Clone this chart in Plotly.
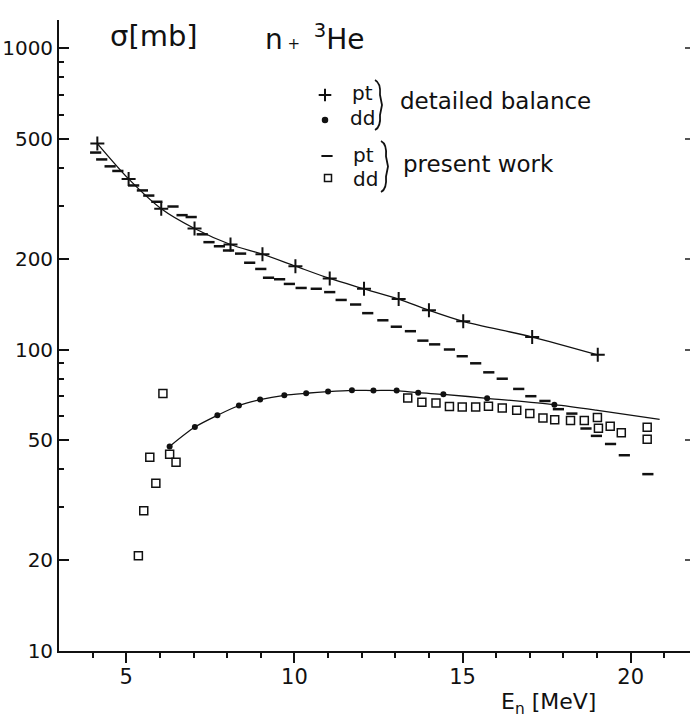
import plotly.graph_objects as go

# ---- n + 3He: detailed-balance values (p+t and d+d channels) ----
db_pt_E = [4.14, 5.07, 6.04, 7.03, 8.10, 9.05, 10.03, 11.05, 12.07, 13.10, 14.0, 15.02, 17.07, 19.02]
db_pt_sigma = [482, 368, 293, 252, 223, 207, 189, 172, 159, 147, 135, 124, 110, 96]

db_dd_E = [6.29, 7.04, 7.71, 8.35, 8.98, 9.70, 10.35, 11.0, 11.71, 12.35, 13.04, 13.68, 14.43, 15.73, 17.73]
db_dd_sigma = [47.7, 55.3, 60.5, 65.2, 68.2, 70.5, 71.6, 72.5, 73.2, 73.1, 73.1, 71.9, 71.0, 68.9, 65.6]

# smooth curve drawn through the d+d values, continued to 21 MeV
dd_curve_E = [6.29, 7.04, 7.71, 8.35, 8.98, 9.70, 10.35, 11.0, 11.71, 12.35, 13.04, 13.68, 14.43, 15.73, 17.73, 18.97, 20.86]
dd_curve_sigma = [47.7, 55.3, 60.5, 65.2, 68.2, 70.5, 71.6, 72.5, 73.2, 73.1, 73.1, 71.9, 71.0, 68.9, 65.6, 62.9, 58.6]

# ---- present work ----
pw_pt_E = [4.09, 4.27, 4.52, 4.75, 5.22, 5.48, 5.67, 5.91, 6.39, 6.66, 6.93, 7.26, 7.46, 7.77,
           8.04, 8.40, 8.67, 9.00, 9.23, 9.56, 9.85, 10.20, 10.65, 11.05, 11.39, 11.82, 12.18,
           12.63, 13.03, 13.45, 13.82, 14.17, 14.61, 14.99, 15.39, 15.78, 16.18, 16.67, 17.03,
           17.45, 17.85, 18.25, 18.67, 18.98, 19.40, 19.81, 20.51]
pw_pt_sigma = [450, 427, 405, 391, 350, 337, 324, 309, 298, 279, 275, 241, 227, 220,
               213, 208, 194, 185, 173, 171, 165, 160, 159, 155, 146, 141, 132,
               125, 119, 115, 107, 104, 100, 95, 90, 84, 80, 74, 70,
               67.5, 63.4, 61.3, 54.7, 51.7, 48.6, 44.6, 38.6]

pw_dd_E = [5.36, 5.52, 5.70, 5.88, 6.09, 6.29, 6.48, 13.37, 13.79, 14.21, 14.61, 14.99, 15.39,
           15.77, 16.18, 16.61, 17.0, 17.39, 17.74, 18.21, 18.62, 19.01, 19.04, 19.39, 19.72,
           20.49, 20.49]
pw_dd_sigma = [20.7, 29.2, 43.9, 36.0, 71.4, 44.9, 42.3, 69.0, 66.8, 66.5, 64.7, 64.5, 64.5,
               64.8, 64.0, 62.9, 61.3, 59.3, 58.5, 58.2, 58.1, 59.5, 54.8, 55.6, 53.0,
               55.2, 50.4]

# ---- axes ----
y_major = [10, 20, 50, 100, 200, 500, 1000]
y_major_text = ["10", "20", "50", "100", "200", "500", "1000"]
y_minor = [30, 40, 60, 70, 80, 90, 300, 400, 600, 700, 800, 900]
x_major = [5, 10, 15, 20]
x_minor = [4, 6, 7, 8, 9, 11, 12, 13, 14, 16, 17, 18, 19, 21]

FONT = "DejaVu Sans"
INK = "#111111"

W, H = 690, 717
ML, MR, MT, MB = 59, 0, 20, 66
PW = W - ML - MR
PH = H - MT - MB
X_PER_MEV = 33.63
Y_PER_DECADE = 301.5
x_range = [3, 3 + PW / X_PER_MEV]
y_range = [1, 1 + PH / Y_PER_DECADE]


def px(x):
    """page pixel column -> paper fraction"""
    return (x - ML) / PW


def py(y):
    """page pixel row -> paper fraction"""
    return (H - MB - y) / PH


fig = go.Figure()

# detailed balance p+t : crosses joined by a smooth curve
fig.add_trace(go.Scatter(
    x=db_pt_E, y=db_pt_sigma, mode="lines+markers",
    line=dict(color=INK, width=1.3, shape="spline", smoothing=0.8),
    marker=dict(symbol="cross-thin", size=10, line=dict(color=INK, width=2)),
    showlegend=False, hoverinfo="skip"))

# detailed balance d+d : dots with curve
fig.add_trace(go.Scatter(
    x=dd_curve_E, y=dd_curve_sigma, mode="lines",
    line=dict(color=INK, width=1.3, shape="spline", smoothing=0.8),
    showlegend=False, hoverinfo="skip"))
fig.add_trace(go.Scatter(
    x=db_dd_E, y=db_dd_sigma, mode="markers",
    marker=dict(symbol="circle", size=6, color=INK),
    showlegend=False, hoverinfo="skip"))

# present work p+t : short dashes
fig.add_trace(go.Scatter(
    x=pw_pt_E, y=pw_pt_sigma, mode="markers",
    marker=dict(symbol="line-ew", size=8, line=dict(color=INK, width=2.5)),
    showlegend=False, hoverinfo="skip"))

# present work d+d : open squares
fig.add_trace(go.Scatter(
    x=pw_dd_E, y=pw_dd_sigma, mode="markers",
    marker=dict(symbol="square-open", size=8, color=INK, line=dict(width=1.5)),
    showlegend=False, hoverinfo="skip"))

# empty trace that carries the right-hand tick axis
fig.add_trace(go.Scatter(x=[], y=[], xaxis="x", yaxis="y2", showlegend=False, hoverinfo="skip"))

# key symbols, placed in pixel units on an overlay axis pair
key_x = [325, 325, 327, 328]
key_y = [95, 120, 156, 178]
key_symbols = ["cross-thin", "circle", "line-ew", "square-open"]
key_sizes = [9, 5, 8, 7]
for kx, ky, ks, kz in zip(key_x, key_y, key_symbols, key_sizes):
    lw = 2 if ks in ("cross-thin", "line-ew") else 1.5
    fig.add_trace(go.Scatter(
        x=[kx], y=[ky], xaxis="x2", yaxis="y3", mode="markers",
        marker=dict(symbol=ks, size=kz, color=INK, line=dict(color=INK, width=lw)),
        showlegend=False, hoverinfo="skip"))


def label(text, x, y, size, xanchor="left", yanchor="middle"):
    fig.add_annotation(text=text, x=px(x), y=py(y), xref="paper", yref="paper", showarrow=False,
                       xanchor=xanchor, yanchor=yanchor,
                       font=dict(family=FONT, size=size, color=INK))


label("σ[mb]", 108, 36, 29)
label("n<span style='font-size:15px'> + </span> <sup>3</sup>He", 263, 38, 28)
label("pt", 362, 93, 20, xanchor="center")
label("dd", 362, 118, 20, xanchor="center")
label("detailed balance", 398, 101, 23)
label("pt", 363, 155, 20, xanchor="center")
label("dd", 365, 179, 20, xanchor="center")
label("present work", 401, 164, 23)
label("E<sub>n</sub> [MeV]", 499, 703, 22)

# curly brackets of the key
for bx, top, bot, bulge in [(375, 80, 130, 6), (381, 141, 192, 6)]:
    mid = (top + bot) / 2
    path = (f"M {bx},{top} Q {bx + bulge},{top + 3} {bx + bulge - 1},{mid - 10} "
            f"L {bx + bulge + 1},{mid} L {bx + bulge - 1},{mid + 10} "
            f"Q {bx + bulge},{bot - 3} {bx},{bot}")
    fig.add_shape(type="path", path=path, xref="x2", yref="y3",
                  line=dict(color=INK, width=1.8))

fig.update_layout(
    width=W, height=H,
    margin=dict(l=ML, r=MR, t=MT, b=MB, pad=0),
    paper_bgcolor="white", plot_bgcolor="white",
    font=dict(family=FONT, color=INK),
    xaxis=dict(
        range=x_range, showgrid=False, zeroline=False,
        showline=True, linecolor=INK, linewidth=2,
        tickmode="array", tickvals=x_major, ticktext=[str(v) for v in x_major],
        ticks="outside", ticklen=10, tickwidth=2, tickcolor=INK,
        tickfont=dict(family=FONT, size=21, color=INK), ticklabelstandoff=-4,
        minor=dict(tickvals=x_minor, ticks="outside", ticklen=5, tickwidth=1.5, tickcolor=INK),
    ),
    yaxis=dict(
        type="log", range=y_range, showgrid=False, zeroline=False,
        showline=True, linecolor=INK, linewidth=1.8,
        tickmode="array", tickvals=y_major, ticktext=y_major_text,
        ticks="inside", ticklen=10, tickwidth=2, tickcolor=INK,
        tickfont=dict(family=FONT, size=20, color=INK), ticklabelstandoff=0,
        minor=dict(tickvals=y_minor, ticks="inside", ticklen=5, tickwidth=1.5, tickcolor=INK),
    ),
    yaxis2=dict(
        type="log", range=y_range, overlaying="y", side="right", anchor="x",
        showgrid=False, zeroline=False, showline=False,
        tickmode="array", tickvals=y_major, ticks="inside", ticklen=5, tickwidth=1.5,
        tickcolor="#555555", showticklabels=False,
    ),
    xaxis2=dict(range=[ML, W - MR], overlaying="x", visible=False, anchor="y3"),
    yaxis3=dict(range=[H - MB, MT], overlaying="y", visible=False, anchor="x2"),
)

fig.write_html("out.html")
